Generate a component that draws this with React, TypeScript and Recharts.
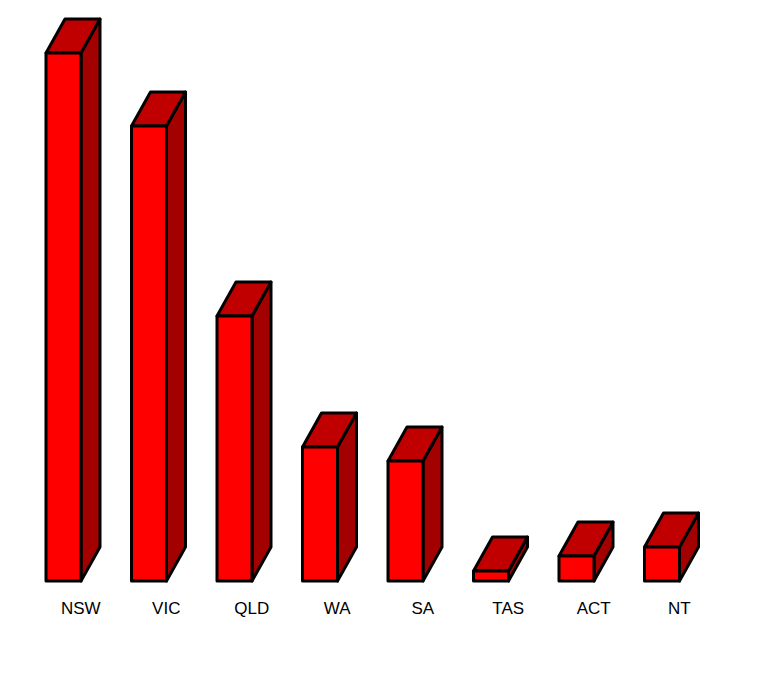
import React from "react";
import { BarChart, Bar, XAxis, YAxis } from "recharts";

const categories = ["NSW", "VIC", "QLD", "WA", "SA", "TAS", "ACT", "NT"];
const values = [528, 455, 265, 134, 120, 10, 25, 34];

const data = categories.map((name, i) => ({ name, value: values[i] }));

const DX = 19;
const DY = 34;

const Bar3D = (props: any) => {
  const { x, y, width, height } = props;
  if (width == null || height == null) return null;
  const top = `${x},${y} ${x + DX},${y - DY} ${x + width + DX},${y - DY} ${x + width},${y}`;
  const side = `${x + width},${y} ${x + width + DX},${y - DY} ${x + width + DX},${y + height - DY} ${x + width},${y + height}`;
  return (
    <g stroke="#000" strokeWidth={3} strokeLinejoin="round">
      <polygon points={side} fill="#A30000" />
      <polygon points={top} fill="#C00000" />
      <rect x={x} y={y} width={width} height={height} fill="#FF0000" />
    </g>
  );
};

const Tick = (props: any) => {
  const { x, y, payload } = props;
  return (
    <text
      x={x + 17}
      y={y + 33}
      textAnchor="middle"
      fontFamily="'Liberation Sans', Arial, sans-serif"
      fontSize={17}
      fill="#000"
    >
      {payload.value}
    </text>
  );
};

export default function App() {
  return (
    <BarChart
      width={744}
      height={660}
      data={data}
      margin={{ top: 13, right: 47, bottom: 37, left: 13 }}
      barCategoryGap={0}
    >
      <XAxis
        dataKey="name"
        axisLine={false}
        tickLine={false}
        tickSize={0}
        tickMargin={0}
        height={50}
        interval={0}
        tick={<Tick />}
      />
      <YAxis hide domain={[0, 560]} />
      <Bar dataKey="value" barSize={35} shape={<Bar3D />} isAnimationActive={false} />
    </BarChart>
  );
}
